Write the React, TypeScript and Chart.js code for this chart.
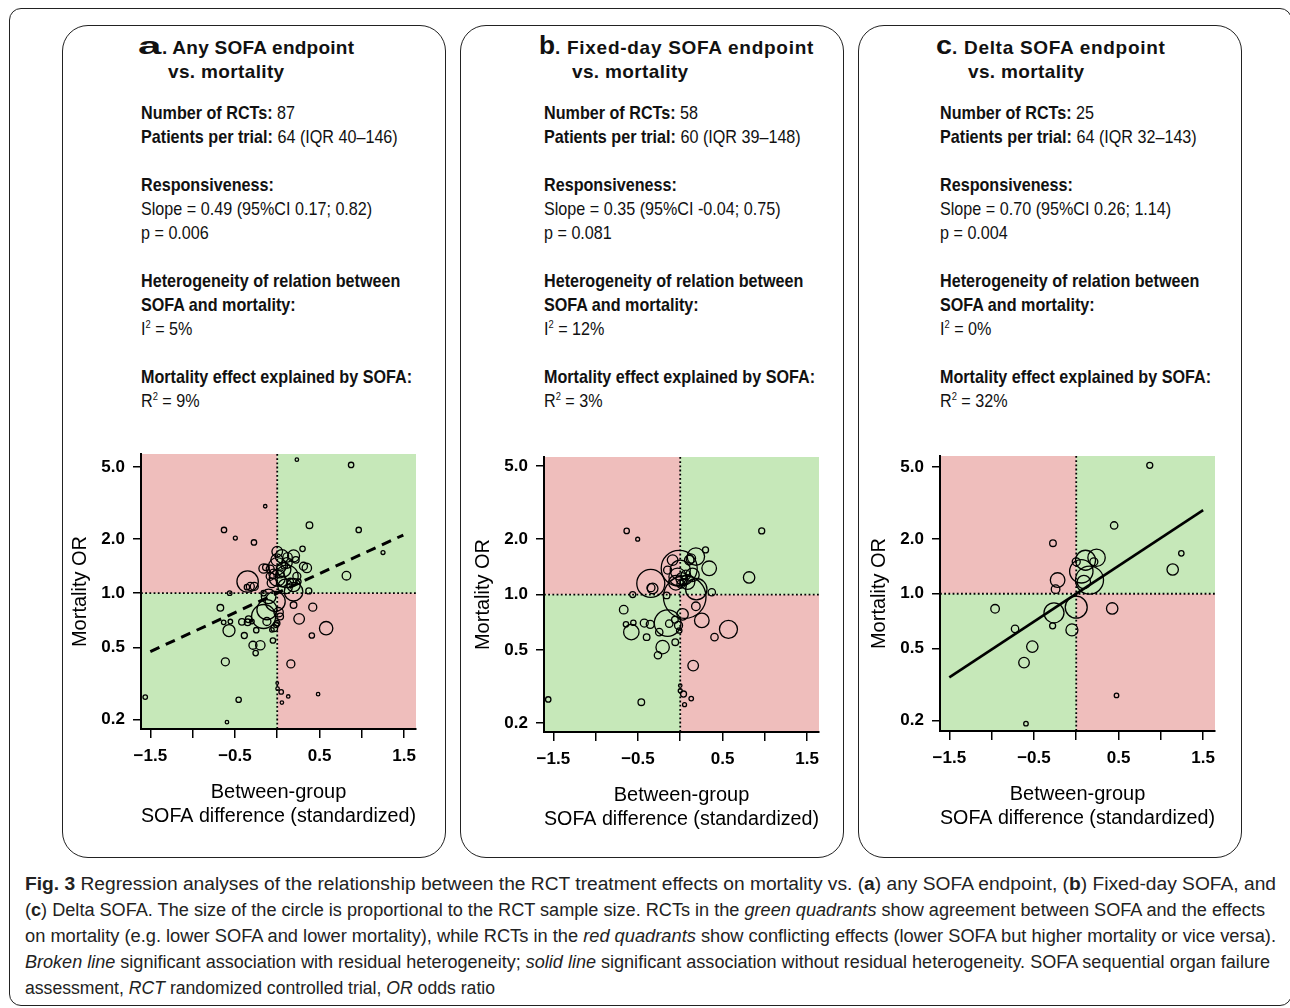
import React, { useEffect, useLayoutEffect, useRef } from 'react';
import { Chart, registerables } from 'chart.js';
Chart.register(...registerables);

// ---------- axis ticks ----------
const xTickValues = [-1.5, -1, -0.5, 0, 0.5, 1, 1.5];
const xTickLabels = ['\u22121.5', '', '\u22120.5', '', '0.5', '', '1.5'];
const yTickValues = [0.2, 0.5, 1, 2, 5];
const yTickLabels = ['0.2', '0.5', '1.0', '2.0', '5.0'];

// ---------- panel a: any SOFA endpoint (87 RCTs) ----------
const aX = [0.232, 0.873, -0.142, 0.381, -0.629, 0.963, -0.495, -0.275, 0.299, 1.25, 0.818,
  0.055, -0.004, 0.122, 0.193, 0.22, 0.35, 0.31, -0.161, -0.134, -0.083, 0.0, 0.075, 0.114, 0.0, -0.043,
  0.055, 0.193, 0.153, 0.25, -0.35, -0.318, -0.271, -0.358, 0.193, 0.373, -0.562, -0.161, -0.024, 0.193,
  0.42, -0.672, -0.122, 0.016, -0.161, -0.122, 0.0, 0.259, -0.633, -0.554, -0.57, -0.417, -0.35, -0.338,
  -0.299, -0.248, -0.035, -0.012, -0.389, 0.578, 0.409, -0.287, -0.2, -0.255, -0.051, -0.613, 0.161,
  0.0, 0.004, 0.047, 0.13, 0.055, 0.483, -1.56, -0.456, -0.594,
  0.0, 0.114, -0.083, 0.035, 0.094, -0.063, 0.232, -0.102, 0.035, -0.063, 0.083];
const aY = [5.49, 5.13, 3.03, 2.38, 2.24, 2.24, 2.02, 1.91, 1.76, 1.68, 1.25,
  1.60, 1.53, 1.58, 1.61, 1.53, 1.38, 1.41, 1.37, 1.39, 1.36, 1.41, 1.35, 1.24, 1.21, 1.28,
  1.16, 1.11, 1.16, 1.16, 1.16, 1.09, 1.09, 1.08, 1.02, 1.03, 1.0, 1.0, 0.90, 0.86,
  0.837, 0.83, 0.81, 0.785, 0.743, 0.697, 0.682, 0.721, 0.69, 0.697, 0.621, 0.694, 0.69, 0.718,
  0.697, 0.624, 0.64, 0.668, 0.583, 0.64, 0.583, 0.515, 0.515, 0.466, 0.547, 0.417, 0.406,
  0.318, 0.296, 0.284, 0.268, 0.248, 0.276, 0.266, 0.257, 0.193,
  1.70, 1.47, 1.24, 1.28, 1.09, 1.14, 1.24, 0.96, 0.743, 0.627, 1.42];
const aN = [10, 24, 10, 36, 24, 24, 13, 24, 24, 13, 61,
  148, 119, 73, 119, 36, 73, 53, 73, 36, 53, 250, 176, 422, 212, 73,
  93, 148, 36, 24, 378, 53, 53, 24, 286, 30, 17, 24, 331, 36,
  53, 36, 331, 73, 476, 53, 24, 93, 17, 17, 119, 36, 36, 36,
  17, 24, 36, 24, 30, 148, 24, 53, 73, 24, 24, 53, 53,
  6, 10, 17, 10, 10, 10, 17, 24, 10,
  93, 93, 53, 53, 176, 73, 53, 176, 36, 17, 36];
const aLineX = [-1.5, 1.49];
const aLineY = [0.475, 2.1];

// ---------- panel b: fixed-day SOFA (58 RCTs) ----------
const bX = [-0.633, -0.503, 0.963, 0.299, 0.814, 0.342, 0.185, 0.126,
  -0.012, 0.0, -0.031, 0.02, 0.067, 0.008, 0.035,
  -0.348, -0.326, -0.346, -0.562, -0.149, -0.161,
  0.053, 0.373, 0.185, 0.028, 0.255, 0.57, 0.405,
  -0.668, -0.641, -0.554, -0.578, -0.425, -0.354, -0.397, -0.248,
  -0.149, -0.13, -0.063, -0.02, -0.012, -0.208, -0.263, -0.059, 0.153,
  0.0, 0.0, 0.039, 0.13, 0.051, -1.56, -0.46,
  0.106, -0.051, 0.145, -0.09, 0.086, 0.19];
const bY = [2.22, 2.0, 2.22, 1.75, 1.24, 1.39, 1.61, 1.57,
  1.39, 1.36, 1.25, 1.22, 1.28, 1.14, 1.17,
  1.15, 1.08, 1.09, 1.0, 1.36, 0.99,
  0.97, 1.03, 0.864, 0.781, 0.724, 0.647, 0.587,
  0.828, 0.689, 0.703, 0.625, 0.70, 0.689, 0.587, 0.625,
  0.70, 0.695, 0.73, 0.68, 0.638, 0.518, 0.468, 0.551, 0.411,
  0.32, 0.30, 0.288, 0.272, 0.252, 0.269, 0.26,
  1.54, 1.16, 1.28, 1.54, 1.17, 1.07];
const bN = [24, 13, 30, 30, 107, 176, 250, 73,
  1071, 331, 250, 119, 73, 53, 36,
  648, 93, 53, 30, 53, 36,
  1500, 45, 61, 107, 176, 268, 45,
  61, 24, 24, 196, 53, 53, 36, 45,
  585, 45, 36, 53, 24, 148, 45, 36, 93,
  10, 13, 30, 17, 13, 24, 36,
  73, 176, 148, 93, 176, 378];

// ---------- panel c: delta SOFA (25 RCTs) ----------
const cX = [0.869, 0.448, 1.242, 1.14, -0.275, 0.11, 0.24, 0.0, 0.06, 0.157, -0.22, -0.244,
  -0.959, -0.263, 0.0, 0.425, -0.723, -0.279, -0.051, -0.519, -0.617, 0.476, -0.594, 0.208, 0.09];
const cY = [5.11, 2.38, 1.67, 1.36, 1.90, 1.53, 1.58, 1.50, 1.33, 1.19, 1.19, 1.06,
  0.826, 0.785, 0.843, 0.83, 0.64, 0.665, 0.632, 0.511, 0.417, 0.275, 0.192, 1.50, 1.16];
const cN = [30, 45, 24, 107, 36, 331, 250, 53, 452, 648, 176, 61,
  61, 331, 400, 107, 45, 30, 119, 107, 93, 17, 17, 53, 148];
const cLineX = [-1.5, 1.5];
const cLineY = [0.346, 2.89];

// ---------- styles ----------
const RED = 'rgb(239,190,188)';
const GREEN = 'rgb(198,232,185)';
const SANS = "'Liberation Sans', Arial, sans-serif";

const quadrantPlugin = {
  id: 'quadrants',
  beforeDraw(chart: any) {
    const { ctx, chartArea: a, scales } = chart;
    const x0 = scales.x.getPixelForValue(0);
    const y1 = scales.y.getPixelForValue(1);
    ctx.save();
    ctx.fillStyle = RED;
    ctx.fillRect(a.left, a.top, x0 - a.left, y1 - a.top);
    ctx.fillRect(x0, y1, a.right - x0, a.bottom - y1);
    ctx.fillStyle = GREEN;
    ctx.fillRect(x0, a.top, a.right - x0, y1 - a.top);
    ctx.fillRect(a.left, y1, x0 - a.left, a.bottom - y1);
    ctx.restore();
  },
  beforeDatasetsDraw(chart: any) {
    const { ctx, chartArea: a, scales } = chart;
    const x0 = scales.x.getPixelForValue(0);
    const y1 = scales.y.getPixelForValue(1);
    ctx.save();
    ctx.strokeStyle = '#000';
    ctx.lineWidth = 1.8;
    ctx.setLineDash([1.8, 2.4]);
    ctx.beginPath();
    ctx.moveTo(x0, a.top);
    ctx.lineTo(x0, a.bottom);
    ctx.moveTo(a.left, y1);
    ctx.lineTo(a.right, y1);
    ctx.stroke();
    ctx.restore();
  },
};

type PlotProps = {
  xs: number[]; ys: number[]; ns: number[];
  lineX?: number[]; lineY?: number[]; dashed?: boolean;
  yMin: number; yMax: number; left: number; top: number;
};

function Plot({ xs, ys, ns, lineX, lineY, dashed, yMin, yMax, left, top }: PlotProps) {
  const ref = useRef<HTMLCanvasElement>(null);
  useEffect(() => {
    if (!ref.current) return;
    const datasets: any[] = [];
    if (lineX && lineY) {
      datasets.push({
        type: 'line',
        data: lineX.map((x, i) => ({ x, y: lineY[i] })),
        borderColor: '#000',
        borderWidth: dashed ? 3 : 2.6,
        borderDash: dashed ? [10, 7] : [],
        pointRadius: 0,
        fill: false,
        order: 0,
      });
    }
    datasets.push({
      type: 'bubble',
      data: xs.map((x, i) => ({ x, y: ys[i], r: 0.55 * Math.sqrt(ns[i]) })),
      backgroundColor: 'rgba(0,0,0,0)',
      borderColor: '#000',
      borderWidth: 1.3,
      order: 1,
    });
    const tickFont = { family: SANS, size: 17, weight: 'bold' as const };
    const zeroPad = (s: any) => { s.paddingTop = 0; s.paddingBottom = 0; s.paddingLeft = 0; s.paddingRight = 0; };
    const chart = new Chart(ref.current, {
      type: 'bubble',
      data: { datasets },
      plugins: [quadrantPlugin],
      options: {
        responsive: false,
        maintainAspectRatio: false,
        animation: false,
        events: [],
        layout: { autoPadding: false, padding: { left: 0, top: 10, right: 20, bottom: 0 } },
        plugins: { legend: { display: false }, tooltip: { enabled: false } },
        scales: {
          x: {
            type: 'linear',
            min: -1.61,
            max: 1.64,
            afterBuildTicks: (s: any) => { s.ticks = xTickValues.map((v) => ({ value: v })); },
            afterFit: (s: any) => { s.height = 105; zeroPad(s); },
            ticks: {
              callback: (_v: any, i: number) => xTickLabels[i],
              font: tickFont,
              color: '#000',
              padding: 8,
              maxRotation: 0,
              autoSkip: false,
            },
            grid: { display: true, drawOnChartArea: false, drawTicks: true, tickLength: 9, color: '#000', lineWidth: 1.5 },
            border: { display: true, color: '#000', width: 2 },
            title: {
              display: true,
              text: ['Between-group', 'SOFA difference (standardized)'],
              font: { family: SANS, size: 20, lineHeight: 1.2 },
              color: '#000',
              padding: { top: 0, bottom: 6 },
            },
          },
          y: {
            type: 'logarithmic',
            min: yMin,
            max: yMax,
            afterBuildTicks: (s: any) => { s.ticks = yTickValues.map((v) => ({ value: v })); },
            afterFit: (s: any) => { s.width = 75; zeroPad(s); },
            ticks: {
              callback: (_v: any, i: number) => yTickLabels[i],
              font: tickFont,
              color: '#000',
              padding: 8,
              autoSkip: false,
            },
            grid: { display: true, drawOnChartArea: false, drawTicks: true, tickLength: 8, color: '#000', lineWidth: 1.5 },
            border: { display: true, color: '#000', width: 2 },
            title: {
              display: true,
              text: 'Mortality OR',
              font: { family: SANS, size: 20, lineHeight: 1.2 },
              color: '#000',
              padding: { top: 2, bottom: 0 },
            },
          },
        },
      } as any,
    });
    return () => chart.destroy();
  }, []);
  return (
    <canvas ref={ref} width={370} height={390}
      style={{ position: 'absolute', left, top, width: 370, height: 390 }} />
  );
}

function Sup({ t }: { t: string }) {
  return <sup style={{ fontSize: 11, lineHeight: 0, verticalAlign: 7 }}>{t}</sup>;
}

type InfoProps = {
  panelLeft: number; letter: string; letterSize: number; letterScale: number; letterWidth: number;
  title: string; titleSpacing: number; textLeft: number; titleLeft: number; vsLeft: number;
  nRct: string; ppt: string; slope: string; p: string; i2: string; r2: string;
};

function Panel(props: InfoProps) {
  const { panelLeft, letter, letterSize, letterScale, letterWidth, title, titleSpacing, textLeft, titleLeft, vsLeft,
    nRct, ppt, slope, p, i2, r2 } = props;
  const body: React.CSSProperties = {
    position: 'absolute', left: textLeft, top: 101.4, fontFamily: SANS, fontSize: 19,
    lineHeight: '24px', color: '#111', whiteSpace: 'pre', transform: 'scaleX(0.85)', transformOrigin: 'left top',
  };
  const B = ({ children }: any) => <span style={{ fontWeight: 'bold' }}>{children}</span>;
  const titleStyle: React.CSSProperties = {
    position: 'absolute', fontFamily: SANS, fontWeight: 'bold', fontSize: 19, lineHeight: '24px',
    whiteSpace: 'pre', color: '#111',
  };
  return (
    <>
      <div style={{
        position: 'absolute', left: panelLeft, top: 25, width: 384, height: 833,
        border: '1.5px solid #222', borderRadius: 26, boxSizing: 'border-box',
      }} />
      <div style={{ ...titleStyle, left: titleLeft, top: 36.4, letterSpacing: titleSpacing }}>
        <span style={{
          display: 'inline-block', width: letterWidth, fontSize: letterSize, lineHeight: '0px', letterSpacing: 0,
          transform: `scaleX(${letterScale})`, transformOrigin: '0 0',
        }}>{letter}</span>{title}
      </div>
      <div style={{ ...titleStyle, left: vsLeft, top: 59.7, letterSpacing: 0.35 }}>vs. mortality</div>
      <div style={body}>
        <div><B>Number of RCTs:</B> {nRct}</div>
        <div><B>Patients per trial:</B> {ppt}</div>
        <div>{' '}</div>
        <div><B>Responsiveness:</B></div>
        <div>{slope}</div>
        <div>{p}</div>
        <div>{' '}</div>
        <div><B>Heterogeneity of relation between</B></div>
        <div><B>SOFA and mortality:</B></div>
        <div>I<Sup t="2" /> = {i2}</div>
        <div>{' '}</div>
        <div><B>Mortality effect explained by SOFA:</B></div>
        <div>R<Sup t="2" /> = {r2}</div>
      </div>
    </>
  );
}

function FitLine({ width, top, children }: { width: number; top: number; children: any }) {
  const ref = useRef<HTMLDivElement>(null);
  useLayoutEffect(() => {
    const el = ref.current;
    if (!el) return;
    el.style.transform = 'none';
    const w = el.getBoundingClientRect().width;
    if (w > 0) el.style.transform = `scaleX(${width / w})`;
  }, [width]);
  return (
    <div ref={ref} style={{
      position: 'absolute', left: 25, top, display: 'inline-block', whiteSpace: 'nowrap',
      fontFamily: SANS, fontSize: 18, lineHeight: '26px', color: '#222', transformOrigin: 'left top',
    }}>{children}</div>
  );
}

export default function App() {
  return (
    <div style={{ position: 'absolute', left: 0, top: 0, width: 1290, height: 1008, overflow: 'hidden', background: '#fff' }}>
      <div style={{
        position: 'absolute', left: 9, top: 8, width: 1283, height: 998,
        border: '1.5px solid #222', borderRadius: 12, boxSizing: 'border-box',
      }} />
      <Panel panelLeft={62} letter="a" letterSize={24} letterScale={1.75} letterWidth={24} title=". Any SOFA endpoint"
        titleSpacing={0.25} titleLeft={138} vsLeft={168} textLeft={141}
        nRct="87" ppt="64 (IQR 40–146)" slope="Slope = 0.49 (95%CI 0.17; 0.82)" p="p = 0.006" i2="5%" r2="9%" />
      <Panel panelLeft={460} letter="b" letterSize={25} letterScale={1.05} letterWidth={16} title=". Fixed-day SOFA endpoint"
        titleSpacing={0.72} titleLeft={539} vsLeft={572} textLeft={544}
        nRct="58" ppt="60 (IQR 39–148)" slope="Slope = 0.35 (95%CI -0.04; 0.75)" p="p = 0.081" i2="12%" r2="3%" />
      <Panel panelLeft={858} letter="c" letterSize={25} letterScale={1.15} letterWidth={16} title=". Delta SOFA endpoint"
        titleSpacing={0.7} titleLeft={936} vsLeft={968} textLeft={940}
        nRct="25" ppt="64 (IQR 32–143)" slope="Slope = 0.70 (95%CI 0.26; 1.14)" p="p = 0.004" i2="0%" r2="32%" />
      <Plot xs={aX} ys={aY} ns={aN} lineX={aLineX} lineY={aLineY} dashed yMin={0.177} yMax={5.9} left={66} top={444} />
      <Plot xs={bX} ys={bY} ns={bN} yMin={0.179} yMax={5.6} left={469} top={447} />
      <Plot xs={cX} ys={cY} ns={cN} lineX={cLineX} lineY={cLineY} yMin={0.175} yMax={5.75} left={865} top={446} />
      <FitLine width={1251} top={871}><b>Fig. 3</b> Regression analyses of the relationship between the RCT treatment effects on mortality vs. (<b>a</b>) any SOFA endpoint, (<b>b</b>) Fixed-day SOFA, and</FitLine>
      <FitLine width={1240} top={897}>(<b>c</b>) Delta SOFA. The size of the circle is proportional to the RCT sample size. RCTs in the <i>green quadrants</i> show agreement between SOFA and the effects</FitLine>
      <FitLine width={1251} top={923}>on mortality (e.g. lower SOFA and lower mortality), while RCTs in the <i>red quadrants</i> show conflicting effects (lower SOFA but higher mortality or vice versa).</FitLine>
      <FitLine width={1245} top={949}><i>Broken line</i> significant association with residual heterogeneity; <i>solid line</i> significant association without residual heterogeneity. SOFA sequential organ failure</FitLine>
      <FitLine width={470} top={975}>assessment, <i>RCT</i> randomized controlled trial, <i>OR</i> odds ratio</FitLine>
    </div>
  );
}
